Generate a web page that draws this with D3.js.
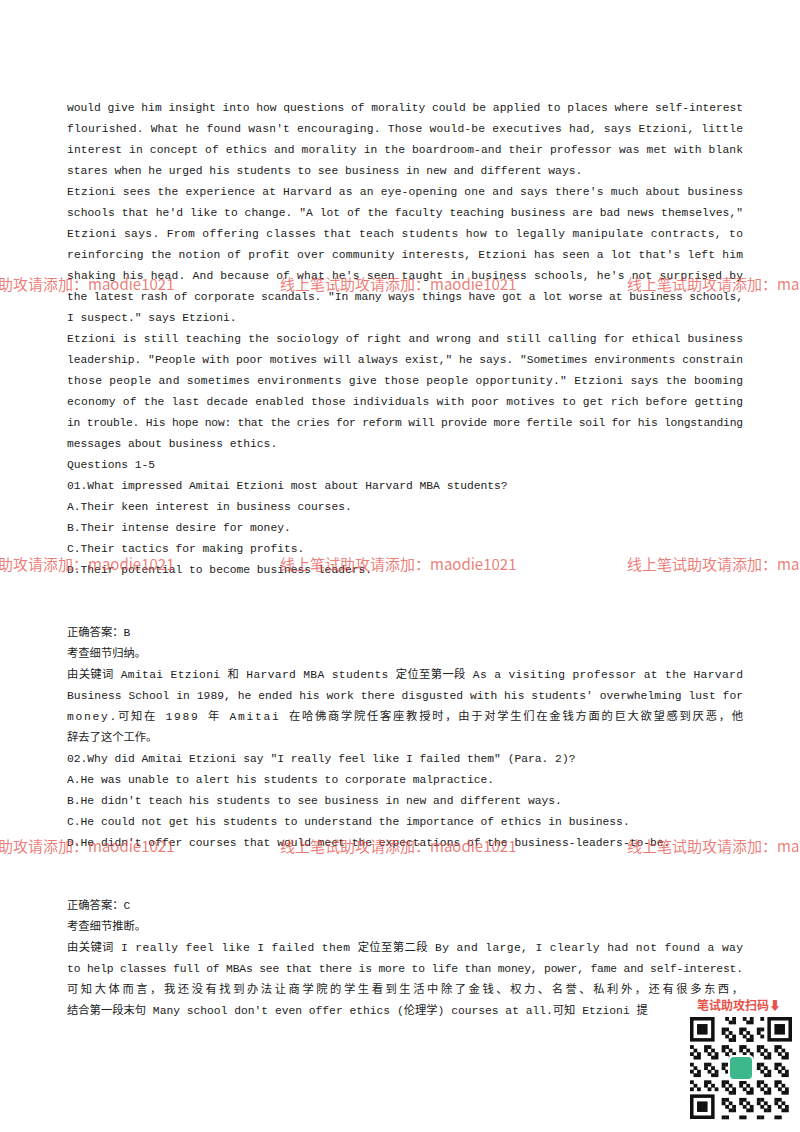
<!DOCTYPE html>
<html><head><meta charset="utf-8">
<script src="https://cdn.jsdelivr.net/npm/d3@7"></script>
<style>body{margin:0;background:#fff}</style></head>
<body><svg id="c" width="800" height="1132"></svg>
<script>
// [text, justified?]
const block1 = [
["would give him insight into how questions of morality could be applied to places where self-interest",1],
["flourished. What he found wasn't encouraging. Those would-be executives had, says Etzioni, little",1],
["interest in concept of ethics and morality in the boardroom-and their professor was met with blank",1],
["stares when he urged his students to see business in new and different ways.",0],
["Etzioni sees the experience at Harvard as an eye-opening one and says there's much about business",1],
["schools that he'd like to change. \"A lot of the faculty teaching business are bad news themselves,\"",1],
["Etzioni says. From offering classes that teach students how to legally manipulate contracts, to",1],
["reinforcing the notion of profit over community interests, Etzioni has seen a lot that's left him",1],
["shaking his head. And because of what he's seen taught in business schools, he's not surprised by",1],
["the latest rash of corporate scandals. \"In many ways things have got a lot worse at business schools,",1],
["I suspect.\" says Etzioni.",0],
["Etzioni is still teaching the sociology of right and wrong and still calling for ethical business",1],
["leadership. \"People with poor motives will always exist,\" he says. \"Sometimes environments constrain",1],
["those people and sometimes environments give those people opportunity.\" Etzioni says the booming",1],
["economy of the last decade enabled those individuals with poor motives to get rich before getting",1],
["in trouble. His hope now: that the cries for reform will provide more fertile soil for his longstanding",1],
["messages about business ethics.",0],
["Questions 1-5",0],
["01.What impressed Amitai Etzioni most about Harvard MBA students?",0],
["A.Their keen interest in business courses.",0],
["B.Their intense desire for money.",0],
["C.Their tactics for making profits.",0],
["D.Their potential to become business leaders.",0]];
const block2 = [
["正确答案：B",0],
["考查细节归纳。",0],
["由关键词 Amitai Etzioni 和 Harvard MBA students 定位至第一段 As a visiting professor at the Harvard",1],
["Business School in 1989, he ended his work there disgusted with his students' overwhelming lust for",1],
["money.可知在 1989 年 Amitai 在哈佛商学院任客座教授时，由于对学生们在金钱方面的巨大欲望感到厌恶，他",1],
["辞去了这个工作。",0],
["02.Why did Amitai Etzioni say \"I really feel like I failed them\" (Para. 2)?",0],
["A.He was unable to alert his students to corporate malpractice.",0],
["B.He didn't teach his students to see business in new and different ways.",0],
["C.He could not get his students to understand the importance of ethics in business.",0],
["D.He didn't offer courses that would meet the expectations of the business-leaders-to-be.",0]];
const block3 = [
["正确答案：C",0],
["考查细节推断。",0],
["由关键词 I really feel like I failed them 定位至第二段 By and large, I clearly had not found a way",1],
["to help classes full of MBAs see that there is more to life than money, power, fame and self-interest.",1],
["可知大体而言，我还没有找到办法让商学院的学生看到生活中除了金钱、权力、名誉、私利外，还有很多东西，",1],
["结合第一段末句 Many school don't even offer ethics (伦理学) courses at all.可知 Etzioni 提",0]];
const blockStarts = [111, 636, 909];
const watermarkRows = [290, 570, 852];
const watermarks = [["助攻请添加：maodie1021",-2],["线上笔试助攻请添加：maodie1021",280],["线上笔试助攻请添加：ma",627]];

const svg = d3.select("#c");
const F = "'Liberation Mono','Noto Sans CJK SC',monospace";
const y = d3.scaleLinear().domain([0,1]).range([0,21]);
[block1,block2,block3].forEach((b,bi)=>{
  b.forEach((l,i)=>{
    const t = svg.append("text").attr("x",67).attr("y",blockStarts[bi]+y(i))
      .attr("font-family",F).attr("font-size",11.3).attr("fill","#222").text(l[0]);
    if(l[1]) t.attr("textLength",676).attr("lengthAdjust","spacing");
  });
});
watermarkRows.forEach(r=>watermarks.forEach(w=>{
  svg.append("text").attr("x",w[1]).attr("y",r).attr("font-family","'Noto Sans CJK SC',sans-serif").attr("font-size",15)
    .attr("fill","#e8524a").attr("fill-opacity",0.75).text(w[0]);
}));
// QR area
svg.append("text").attr("x",697).attr("y",1010).attr("font-family","'Noto Sans CJK SC',sans-serif").attr("font-size",12)
  .attr("font-weight","bold").attr("fill","#e8524a").text("笔试助攻扫码⬇");
const qx=690,qy=1017,qs=102,n=29,cell=qs/n;
const g=svg.append("g");
const bits=[];
for(let r=0;r<n;r++)for(let c=0;c<n;c++){ if(((r*7+c*13+r*c)%5)<2) bits.push([r,c]); }
g.selectAll("rect.b").data(bits.filter(([r,c])=>!((r<8&&c<8)||(r<8&&c>n-9)||(r>n-9&&c<8))))
 .join("rect").attr("x",d=>qx+d[1]*cell).attr("y",d=>qy+d[0]*cell).attr("width",cell+0.3).attr("height",cell+0.3).attr("fill","#111");
[[0,0],[0,n-7],[n-7,0]].forEach(([r,c])=>{
  g.append("rect").attr("x",qx+c*cell+cell/2).attr("y",qy+r*cell+cell/2).attr("width",6*cell).attr("height",6*cell).attr("fill","none").attr("stroke","#111").attr("stroke-width",cell);
  g.append("rect").attr("x",qx+(c+2)*cell).attr("y",qy+(r+2)*cell).attr("width",3*cell).attr("height",3*cell).attr("fill","#111");
});
g.append("rect").attr("x",qx+qs/2-13).attr("y",qy+qs/2-13).attr("width",26).attr("height",26).attr("rx",5).attr("fill","#fff");
g.append("rect").attr("x",qx+qs/2-11).attr("y",qy+qs/2-11).attr("width",22).attr("height",22).attr("rx",4).attr("fill","#3cb88a");
</script></body></html>
